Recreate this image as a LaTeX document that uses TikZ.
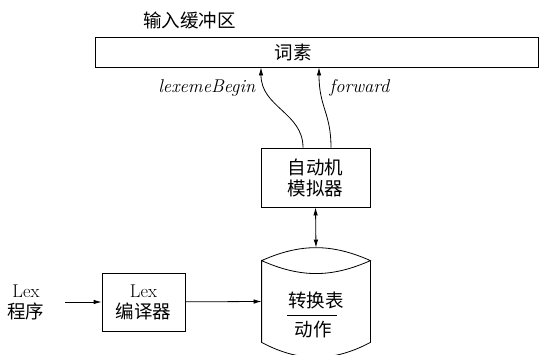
\documentclass[tikz,border=0pt]{standalone}
\usepackage{fontspec}
\newfontfamily\cjk{Noto Sans CJK SC}
\usetikzlibrary{positioning, arrows.meta}

\begin{document}
\begin{tikzpicture}[x=1pt, y=-1pt, line width=0.8pt,
    font=\fontsize{18.5}{21}\selectfont,
    box/.style={rectangle, draw, align=center, inner sep=0pt},
    tip/.style={-{Latex[length=8pt, width=4.5pt]}},
    lbl/.style={font=\fontsize{18.5}{21}\selectfont\itshape}]
  \clip (0,0) rectangle (541,354);
  % input buffer
  \node[box, minimum width=443, minimum height=30] (buf) at (316.5,52) {};
  \node (lexeme) at (293,52) {\cjk 词素};
  \node (buflabel) at (189.5,20) {\cjk 输入缓冲区};
  % automaton simulator
  \node[box, minimum width=109, minimum height=59] (sim) at (315.5,177.5)
        {{\cjk 自动机}\\{\cjk 模拟器}};
  \draw[tip] ([xshift=-12.5pt]sim.north) .. controls +(0,-35) and +(0,40) .. ([xshift=-55.5pt]buf.south);
  \draw[tip] ([xshift=15.5pt]sim.north) .. controls +(0,-35) and +(0,40) .. ([xshift=2.5pt]buf.south);
  \node[lbl, anchor=east] (beginlbl) at (259,88) {lexemeBegin};
  \node[lbl, anchor=west] (fwdlbl) at (326,88) {forward};
  % transition table
  \node[minimum width=108, minimum height=81, inner sep=0pt] (tab) at (316,301.5) {};
  \draw (tab.north west) to[bend left=24] (tab.north east) to[bend left=24] (tab.north west)
        -- (tab.south west) to[bend right=28] (tab.south east) -- (tab.north east);
  \coordinate (tabtop) at ([yshift=13pt]tab.north);
  \node (trans) at (316,300) {\cjk 转换表};
  \node (act) at (313,329) {\cjk 动作};
  \draw (287,315) -- (337,315);
  \draw[{Latex[length=8pt, width=4.5pt]}-{Latex[length=8pt, width=4.5pt]}] (sim.south) -- (tabtop);
  % lex compiler
  \node[box, minimum width=83, minimum height=58] (lexc) at (143.5,302) {Lex\\{\cjk 编译器}};
  \node[align=center] (src) at (26,302) {Lex\\{\cjk 程序}};
  \draw[tip, shorten <=17pt] (src.east) -- (lexc);
  \draw[tip] (lexc) -- (tab.west);
\end{tikzpicture}
\end{document}
